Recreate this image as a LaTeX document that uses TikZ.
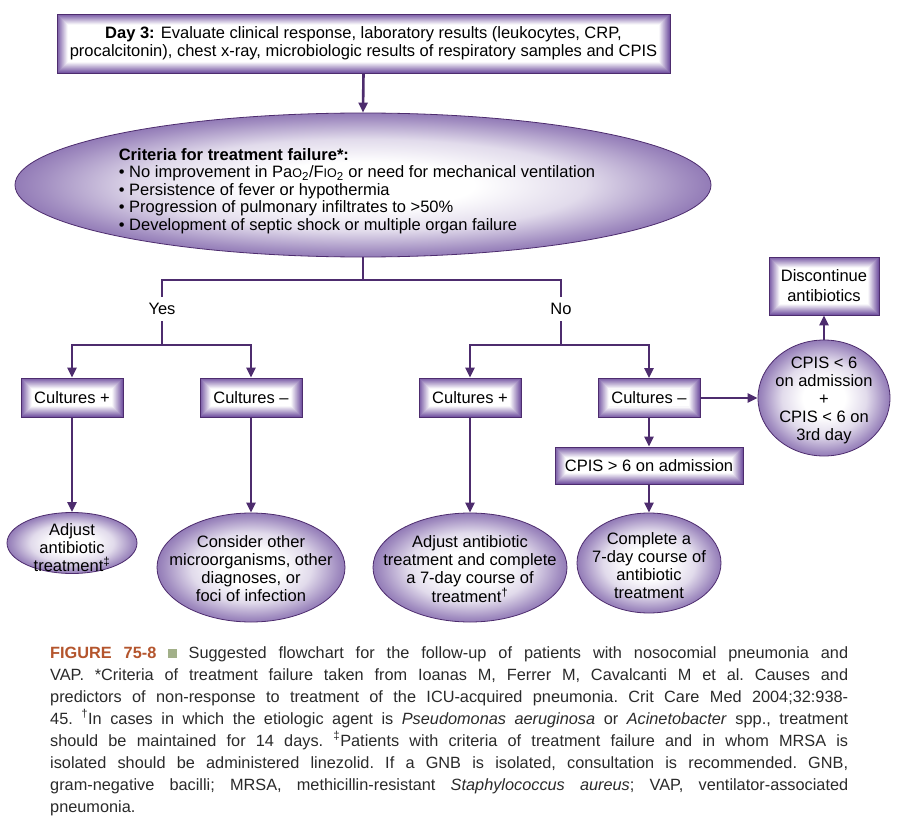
\documentclass[tikz,border=0pt]{standalone}
\usepackage{fontspec}
\setmainfont{Liberation Sans}
\usetikzlibrary{shapes.geometric,arrows.meta}
\definecolor{linepurple}{HTML}{4D2C6E}
\definecolor{boxpurple}{HTML}{7657A3}
\definecolor{ellpurple}{HTML}{6A4A9C}
\definecolor{figred}{HTML}{B4552D}
\definecolor{figsq}{HTML}{A2B089}
\definecolor{captext}{HTML}{2A2A2A}
\colorlet{ellmid}{ellpurple!62}
\colorlet{elllight}{ellpurple!20}
\pgfdeclareradialshading{ovalshade}{\pgfpoint{0bp}{0bp}}{color(0bp)=(white); color(8bp)=(white); color(16bp)=(elllight); color(23bp)=(ellmid); color(30bp)=(ellpurple); color(60bp)=(ellpurple)}
\newcommand\smallcap[1]{{\fontsize{12.5}{12.5}\selectfont #1}}
\tikzset{
  flow/.style={draw=linepurple,line width=2.6pt},
  flowarrow/.style={flow,-{Triangle[length=10pt,width=9pt]}},
  bevelbox/.style={rectangle,draw=linepurple,line width=0.8pt,fill=white,align=center,inner sep=0pt,
    path picture={
      \foreach \k in {0,...,10}{
        \pgfmathsetmacro\mix{int(100-9.5*\k)}
        \draw[boxpurple!\mix,line width=1.05pt]
          ([shift={(\k*1pt+0.5pt,-\k*1pt-0.5pt)}]path picture bounding box.north west) rectangle
          ([shift={(-\k*1pt-0.5pt,\k*1pt+0.5pt)}]path picture bounding box.south east);
      }
    }},
  oval/.style={ellipse,draw=linepurple,line width=0.8pt,shading=ovalshade,inner sep=0pt},
  ovaltext/.style={align=center,inner sep=0pt},
}
\begin{document}
\begin{tikzpicture}[x=1pt,y=-1pt,font=\fontsize{16.5}{18}\selectfont]
\useasboundingbox[fill=white] (0,0) rectangle (900,824);

% top box and criteria
\node[bevelbox,minimum width=613pt,minimum height=59pt] (day3) at (363.5,43.5)
  {\textbf{Day 3:} Evaluate clinical response, laboratory results (leukocytes, CRP,\\
   procalcitonin), chest x-ray, microbiologic results of respiratory samples and CPIS};
\node[oval,minimum width=696pt,minimum height=144pt] (crit) at (363,185) {};
\node[ovaltext,align=left,font=\fontsize{16.5}{17.5}\selectfont] (crittext) at (357,191)
  {\textbf{Criteria for treatment failure*:}\\
   • No improvement in Pa\smallcap{O}\textsubscript{2}/F\smallcap{IO}\textsubscript{2} or need for mechanical ventilation\\
   • Persistence of fever or hypothermia\\
   • Progression of pulmonary infiltrates to >50\%\\
   • Development of septic shock or multiple organ failure};

\node[inner sep=0pt,minimum height=24pt] (yes) at (162,309) {Yes};
\node[inner sep=0pt,minimum height=24pt] (no) at (561,309) {No};
\coordinate (fork) at (363,280);
\coordinate (yesfork) at (162,345);
\coordinate (nofork) at (561,345);

% second row
\node[bevelbox,minimum width=102pt,minimum height=39pt] (cpyes) at (72,397.5) {Cultures +};
\node[bevelbox,minimum width=102pt,minimum height=39pt] (cmyes) at (251,397.5) {Cultures –};
\node[bevelbox,minimum width=102pt,minimum height=39pt] (cpno) at (470,397.5) {Cultures +};
\node[bevelbox,minimum width=102pt,minimum height=39pt] (cmno) at (649,398) {Cultures –};
\node[oval,minimum width=132pt,minimum height=116pt] (circ) at (824,398) {};
\node[ovaltext] (circtext) at (824,400)
  {CPIS < 6\\on admission\\+\\CPIS < 6 on\\3rd day};
\node[bevelbox,minimum width=110pt,minimum height=58pt,font=\fontsize{16.5}{20}\selectfont] (disc) at (824,286)
  {Discontinue\\antibiotics};
\node[bevelbox,minimum width=188pt,minimum height=37pt] (cpisgt) at (649,465.5) {CPIS > 6 on admission};

% bottom ovals
\node[oval,minimum width=130pt,minimum height=61pt] (adjyes) at (72,543) {};
\node[ovaltext] (adjyestext) at (72,548) {Adjust\\antibiotic\\treatment\textsuperscript{‡}};
\node[oval,minimum width=188pt,minimum height=109pt] (cons) at (251,567.5) {};
\node[ovaltext] (constext) at (251,569)
  {Consider other\\microorganisms, other\\diagnoses, or\\foci of infection};
\node[oval,minimum width=194pt,minimum height=109pt] (adjno) at (470,567.5) {};
\node[ovaltext] (adjnotext) at (470,569)
  {Adjust antibiotic\\treatment and complete\\a 7-day course of\\treatment\textsuperscript{†}};
\node[oval,minimum width=144pt,minimum height=100pt] (compl) at (649,563) {};
\node[ovaltext] (compltext) at (649,566)
  {Complete a\\7-day course of\\antibiotic\\treatment};

% connectors
\draw[flowarrow] (day3.south) -- (crit.north);
\draw[flow] (crit.south) -- (fork);
\draw[flow] (fork) -| (yes.north);
\draw[flow] (fork) -| (no.north);
\draw[flow] (yes.south) -- (yesfork);
\draw[flow] (no.south) -- (nofork);
\draw[flowarrow] (yesfork) -| (cpyes.north);
\draw[flowarrow] (yesfork) -| (cmyes.north);
\draw[flowarrow] (nofork) -| (cpno.north);
\draw[flowarrow] (nofork) -| (cmno.north);
\draw[flowarrow] (cpyes) -- (adjyes);
\draw[flowarrow] (cmyes) -- (cons);
\draw[flowarrow] (cpno) -- (adjno);
\draw[flowarrow] (cmno) -- (cpisgt);
\draw[flowarrow] (cpisgt) -- (compl);
\draw[flowarrow] (cmno.east) -- (circ.west);
\draw[flowarrow] (circ) -- (disc);

% caption
\node[anchor=north west,text width=798pt,align=justify,inner sep=0pt,text=captext,
  font=\fontsize{16.3}{22}\selectfont\frenchspacing] (caption) at (50,646)
  {\textcolor{figred}{\textbf{FIGURE 75-8}}\ \textcolor{figsq}{\rule[0.5pt]{8.5pt}{8.5pt}}\ Suggested flowchart for the follow-up of patients with nosocomial pneumonia and\linebreak
   VAP. *Criteria of treatment failure taken from Ioanas M, Ferrer M, Cavalcanti M et al. Causes and\linebreak
   predictors of non-response to treatment of the ICU-acquired pneumonia. Crit Care Med 2004;32:938-\linebreak
   45. \textsuperscript{†}In cases in which the etiologic agent is \textit{Pseudomonas aeruginosa} or \textit{Acinetobacter} spp., treatment\linebreak
   should be maintained for 14 days. \textsuperscript{‡}Patients with criteria of treatment failure and in whom MRSA is\linebreak
   isolated should be administered linezolid. If a GNB is isolated, consultation is recommended. GNB,\linebreak
   gram-negative bacilli; MRSA, methicillin-resistant \textit{Staphylococcus aureus}; VAP, ventilator-associated\linebreak
   pneumonia.};
\end{tikzpicture}
\end{document}
